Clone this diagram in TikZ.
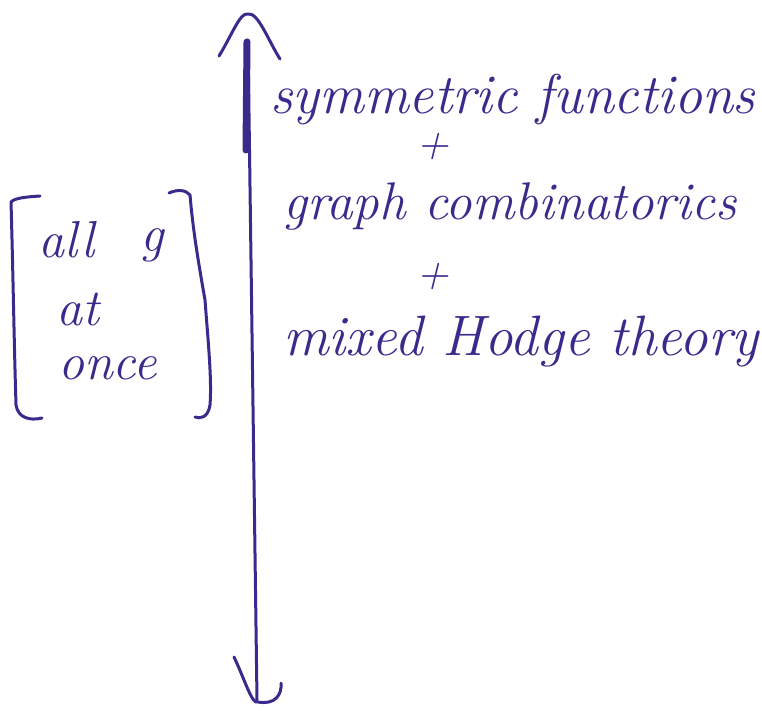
\documentclass[tikz,border=0pt]{standalone}
\usepackage{fontspec}
\begin{document}
\begin{tikzpicture}[x=1pt,y=-1pt,
  ink/.style={draw=penblue,line width=3pt,line cap=round,line join=round},
  hand/.style={text=penblue,font=\fontsize{#1}{#1}\selectfont\itshape,inner sep=0pt},
  hand/.default=55]
\definecolor{penblue}{HTML}{3B2A8C}
\useasboundingbox (0,0) rectangle (762,711);
% axis
\coordinate (top) at (248,14);
\coordinate (bot) at (258,702);
\draw[ink] (248,40) -- (257,700);
\draw[draw=penblue,line width=7pt,line cap=round] (247,42) -- (246,150);
\draw[ink] (219,56) .. controls (232,35) and (240,12) .. (top) .. controls (258,12) and (268,40) .. (280,59);
\draw[ink] (234,657) .. controls (245,680) and (252,705) .. (bot) .. controls (275,705) and (282,695) .. (281,683);
% right texts
\node[hand=56,anchor=west] (sym) at (270,100) {symmetric functions};
\node[hand=44] (p1) at (433,147) {+};
\node[hand=53,anchor=west] (gra) at (283,207) {graph combinatorics};
\node[hand=44] (p2) at (433,277) {+};
\node[hand=57,anchor=west] (mix) at (283,342) {mixed Hodge theory};
% left bracket
\draw[ink] (40,196) .. controls (25,197) and (15,198) .. (11,202) .. controls (13,270) and (14,340) .. (16,405) .. controls (18,418) and (30,421) .. (42,418);
\draw[ink] (169,193) .. controls (178,189) and (186,190) .. (190,195) .. controls (193,230) and (198,260) .. (205,300) .. controls (208,340) and (212,380) .. (210,405) .. controls (208,418) and (200,419) .. (195,417);
\node[hand=52,anchor=west] (all) at (38,240) {all};
\node[hand=52,anchor=west] (g) at (140,245) {g};
\node[hand=52,anchor=west] (at) at (56,310) {at};
\node[hand=52,anchor=west] (once) at (58,368) {once};
\end{tikzpicture}
\end{document}
